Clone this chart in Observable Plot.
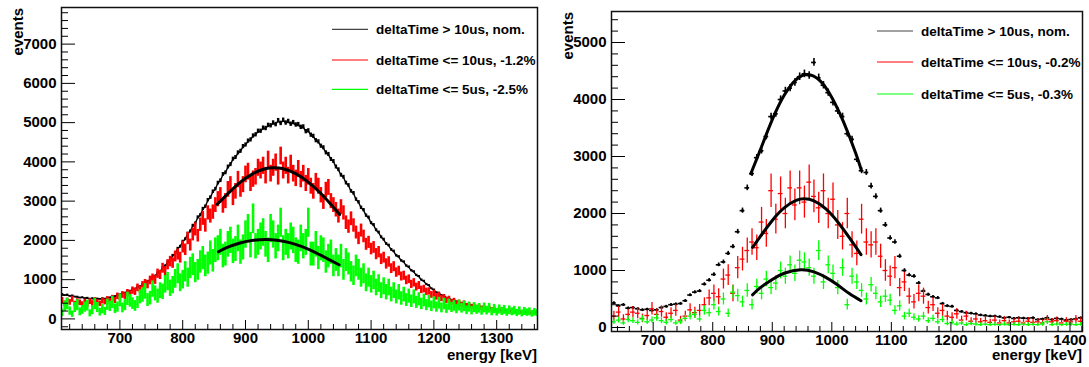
<!DOCTYPE html>
<html><head><meta charset="utf-8">
<script src="https://cdn.jsdelivr.net/npm/d3@7"></script>
<script src="https://cdn.jsdelivr.net/npm/@observablehq/plot@0.6"></script>
<style>
body{margin:0;background:#fff;}
#wrap{position:relative;width:1089px;height:367px;overflow:hidden;}
#left{position:absolute;left:0;top:0;width:545px;}
#right{position:absolute;left:545px;top:0;width:544px;}
</style></head><body><div id="wrap"><div id="left"></div><div id="right"></div></div>
<script>
// ---------------- DATA ----------------
const seriesLabelsLeft = ["deltaTime > 10us, nom.", "deltaTime <= 10us, -1.2%", "deltaTime <= 5us, -2.5%"];
const seriesLabelsRight = ["deltaTime > 10us, nom.", "deltaTime <= 10us, -0.2%", "deltaTime <= 5us, -0.3%"];
const xLabel = "energy [keV]";
const yLabel = "events";

// left panel: 4 keV bins starting at 606 keV
const leftBinStart = 606, leftBinWidth = 4;
const leftNominal = [
625,598,612,580,590,561,558,537,546,522,
531,508,520,497,512,503,519,508,536,541,
566,574,610,618,652,660,701,708,748,762,
812,822,878,890,958,985,1062,1088,1168,1205,
1302,1345,1446,1480,1612,1655,1790,1840,1968,2030,
2170,2228,2372,2430,2585,2640,2800,2860,3025,3090,
3240,3305,3460,3520,3680,3720,3870,3930,4070,4110,
4230,4270,4390,4430,4530,4560,4660,4690,4780,4780,
4860,4850,4930,4920,4990,4950,5050,4980,5060,4990,
5030,4960,5000,4940,4950,4880,4890,4770,4790,4680,
4650,4540,4510,4400,4360,4230,4190,4060,4010,3870,
3800,3660,3610,3460,3400,3250,3200,3040,2970,2830,
2770,2630,2580,2440,2390,2260,2200,2080,2020,1910,
1870,1760,1720,1610,1580,1480,1450,1350,1320,1230,
1200,1110,1080,990,960,880,850,770,740,670,
660,600,590,535,530,482,478,440,430,398,
395,365,362,338,335,315,312,295,293,276,
275,258,256,238,236,222,220,205,206,192,
192,180,181,168,170,160,158,150,149,140];
const leftLe10 = [
470,390,455,420,500,380,440,410,370,430,
360,440,395,470,420,385,455,430,490,445,
520,470,575,540,610,580,660,630,720,690,
790,740,850,900,870,980,1030,990,1150,1120,
1290,1210,1380,1460,1420,1590,1640,1560,1830,1760,
2050,1880,2150,2280,2120,2400,2560,2380,2700,2620,
2720,2900,3050,3150,2880,3000,3300,3420,3080,3250,
3550,3300,3420,3680,3750,3450,3560,3620,3850,3780,
3900,3650,4050,3700,3850,3980,3620,4150,3780,3900,
3650,3950,3700,3580,3820,3550,3700,3450,3620,3380,
3250,3500,3380,3150,2980,3280,3350,3000,2900,2780,
2620,2850,2700,2450,2350,2550,2380,2200,2050,2250,
2100,1900,1950,1780,1820,1650,1700,1520,1560,1400,
1450,1280,1330,1180,1220,1080,1100,980,1010,880,
920,810,850,740,760,690,700,610,640,560,
590,520,540,470,500,420,450,390,410,360,
390,330,350,310,320,290,305,270,285,255,
270,235,250,215,235,200,220,190,205,180,
195,170,180,155,170,145,160,135,150,130];
const leftLe5 = [
150,320,380,200,120,290,350,180,230,300,
340,140,220,380,290,170,250,190,360,320,
420,260,300,470,280,350,510,460,390,330,
420,560,610,700,480,530,760,650,580,720,
690,880,950,780,860,1020,1150,920,1000,1200,
1050,1300,1380,1180,1250,1450,1550,1350,1420,1680,
1480,1750,1800,1950,1600,1650,1900,2000,1720,1780,
2050,1700,1820,2150,2300,1880,2550,1850,1950,2100,
2200,1900,1750,2300,2150,1850,2050,2450,1800,1950,
1850,2100,2000,1750,1700,2050,1850,1950,2450,1650,
1650,1900,1550,1800,1750,1450,1600,1700,1350,1500,
1350,1600,1250,1500,1400,1200,1100,1350,1250,1050,
1150,920,1050,880,980,800,900,720,830,680,
800,620,720,560,680,520,620,480,580,450,
560,420,500,380,470,350,440,320,410,300,
400,280,380,260,360,290,330,250,340,270,
320,220,300,210,290,230,270,200,280,210,
270,180,250,170,240,190,230,160,220,180,
210,150,200,140,190,160,180,130,170,150];
// fitted curves (keV, events)
const leftFitLe10X = [855,870,890,910,930,946,960,980,1000,1020,1040,1050];
const leftFitLe10Y = [2920,3160,3460,3683,3817,3850,3824,3701,3485,3193,2847,2660];
const leftFitLe5X = [857,870,890,910,932,950,970,990,1010,1030,1049];
const leftFitLe5Y = [1712,1815,1926,1997,2025,2006,1943,1839,1701,1537,1380];

// right panel: 8 keV bins starting at 630 keV
const rightBinStart = 630, rightBinWidth = 8;
const rightNominal = [
430,380,400,340,350,330,310,320,300,310,
350,370,400,410,420,470,570,620,640,760,
830,930,1100,1150,1300,1420,1680,2050,2450,2700,
2980,3100,3350,3700,3750,4000,4150,4200,4300,4400,
4450,4420,4650,4380,4250,4120,3950,3800,3700,3400,
3300,2950,2750,2720,2480,2300,2050,1800,1570,1500,
1250,1000,920,900,780,640,580,540,520,420,
380,370,300,280,260,250,240,220,210,200,
200,190,170,180,160,170,165,160,170,140,
150,170,140,160,150,130,140,150,170];
const rightLe10 = [
200,270,150,230,270,250,160,210,330,230,
280,180,250,300,130,200,310,260,300,400,
520,600,540,850,920,600,1050,1200,1350,1500,
1400,1850,1650,2400,1900,2350,2000,2450,2150,2450,
2200,2550,2300,2100,2400,2000,2250,1800,1600,2000,
1450,1300,1900,1500,1450,1500,1250,1000,900,1050,
700,800,550,450,600,550,350,400,250,300,
200,180,240,130,200,110,150,100,120,90,
130,80,120,80,100,110,80,110,90,100,
80,140,100,120,80,110,100,140,110];
const rightLe5 = [
100,130,80,140,120,90,150,100,130,170,
120,90,140,80,100,160,200,230,150,300,
260,400,280,500,250,620,560,450,650,400,
720,600,850,700,780,1000,900,1100,950,1180,
1150,1050,900,1350,800,1100,950,700,1050,400,
900,800,650,500,750,600,450,550,480,300,
380,200,250,180,150,200,120,160,100,140,
70,90,60,80,50,70,60,50,60,50,
55,50,60,50,55,50,60,50,55,50,
60,100,50,60,50,55,60,50,55];
const rightFitNomX = [864,880,900,920,940,959,980,1000,1020,1040,1049];
const rightFitNomY = [2700,3118,3646,4074,4350,4440,4331,4037,3598,3063,2780];
const rightFitLe10X = [867,880,900,920,940,954,970,990,1010,1030,1049];
const rightFitLe10Y = [1407,1598,1878,2098,2229,2257,2221,2080,1851,1567,1278];
const rightFitLe5X = [867,880,900,920,948,970,990,1010,1030,1049];
const rightFitLe5Y = [574,700,843,952,1014,975,880,745,591,469];

// axis ticks
const leftXMajor = [700,800,900,1000,1100,1200,1300];
const leftYMajor = [0,1000,2000,3000,4000,5000,6000,7000];
const rightXMajor = [700,800,900,1000,1100,1200,1300,1400];
const rightYMajor = [0,1000,2000,3000,4000,5000];

// ---------------- DRAW ----------------
const FONT = "'Liberation Sans', Arial, Helvetica, sans-serif";
const colors = ["#000000", "#ff0000", "#00ff00"];

function rows(start, width, values, k) {
  return values.map((v, i) => {
    const c = start + width * (i + 0.5);
    const e = k * Math.sqrt(Math.max(v, 0));
    return {x: c, x1: c - width / 2, x2: c + width / 2, v, lo: v - e, hi: v + e};
  });
}
function minorTicks(lo, hi, step) { return d3.range(Math.ceil(lo / step) * step, hi + 1e-9, step); }

function panel(cfg) {
  const marks = [];
  cfg.series.forEach((s, i) => {
    if (s.joined) marks.push(Plot.line(s.rows, {x: "x", y: "v", stroke: colors[i], strokeWidth: 1.4, clip: true}));
    marks.push(Plot.ruleX(s.rows, {x: "x", y1: "lo", y2: "hi", stroke: colors[i], strokeWidth: s.w, clip: true}));
    if (cfg.crosses) {
      marks.push(Plot.ruleY(s.rows, {y: "v", x1: "x1", x2: "x2", stroke: colors[i], strokeWidth: s.hw, clip: true}));
      if (i === 0) marks.push(Plot.dot(s.rows, {x: "x", y: "v", r: 1.3, fill: colors[0], stroke: null, clip: true}));
    }
  });
  cfg.fits.forEach(f => {
    const pts = f.x.map((x, j) => ({x, y: f.y[j]}));
    marks.push(Plot.line(pts, {x: "x", y: "y", stroke: "#000", strokeWidth: 3, curve: "natural", clip: true}));
  });
  marks.push(Plot.frame({stroke: "#111", strokeWidth: 1.5}));
  const xd = cfg.xDomain, yd = cfg.yDomain;
  marks.push(Plot.axisX(cfg.xMajor, {anchor: "bottom", tickSize: -9, tickFormat: () => "", label: null}));
  marks.push(Plot.axisX(minorTicks(xd[0], xd[1], 20).filter(t => t % 100 !== 0), {anchor: "bottom", tickSize: -5, tickFormat: () => "", label: null}));
  marks.push(Plot.axisX(cfg.xMajor, {anchor: "bottom", tickSize: 0, tickPadding: 3, label: null, tickFormat: d => String(d)}));
  marks.push(Plot.axisY(cfg.yMajor, {anchor: "left", tickSize: -14, tickFormat: () => "", label: null}));
  marks.push(Plot.axisY(minorTicks(yd[0], yd[1], 200).filter(t => t % 1000 !== 0), {anchor: "left", tickSize: -7, tickFormat: () => "", label: null}));
  marks.push(Plot.axisY(cfg.yMajor, {anchor: "left", tickSize: 0, tickPadding: 5, label: null, tickFormat: d => String(d)}));

  const svg = Plot.plot({
    width: cfg.width, height: 367,
    marginLeft: cfg.ml, marginRight: cfg.mr, marginTop: cfg.mt, marginBottom: cfg.mb,
    x: {domain: xd, label: null},
    y: {domain: yd, label: null},
    style: {fontFamily: FONT, fontSize: "15px", fontWeight: "bold", color: "#000", background: "#fff", overflow: "visible"},
    marks
  });
  const g = d3.select(svg);
  const right = cfg.width - cfg.mr;
  g.append("text").text(xLabel).attr("x", right).attr("y", 360).attr("text-anchor", "end")
    .style("font", `bold 15px ${FONT}`).attr("fill", "#000");
  g.append("text").text(yLabel).attr("transform", `translate(${cfg.ml - 38.5},${cfg.mt + 1}) rotate(-90)`)
    .attr("text-anchor", "end").style("font", `bold 15px ${FONT}`).attr("fill", "#000");
  cfg.labels.forEach((lab, i) => {
    const y = cfg.legendY[i];
    g.append("line").attr("x1", 332).attr("x2", 368).attr("y1", y).attr("y2", y)
      .attr("stroke", i === 0 ? "#444" : colors[i]).attr("stroke-width", 1.2);
    g.append("text").text(lab).attr("x", 376).attr("y", y).attr("dy", "0.35em")
      .attr("text-anchor", "start")
      .style("font", `bold 13.5px ${FONT}`).attr("fill", "#000");
  });
  return svg;
}

document.getElementById("left").appendChild(panel({
  width: 545, ml: 61, mr: 8, mt: 7, mb: 38,
  xDomain: [607, 1365], yDomain: [-270, 7933],
  xMajor: leftXMajor, yMajor: leftYMajor,
  crosses: false,
  series: [
    {rows: rows(leftBinStart, leftBinWidth, leftNominal, 0.8), w: 2.4, joined: true},
    {rows: rows(leftBinStart, leftBinWidth, leftLe10, 3.5), w: 2.6},
    {rows: rows(leftBinStart, leftBinWidth, leftLe5, 7.5), w: 2.6}
  ],
  fits: [{x: leftFitLe10X, y: leftFitLe10Y}, {x: leftFitLe5X, y: leftFitLe5Y}],
  labels: seriesLabelsLeft, legendY: [29.3, 60, 89.3]
}));
document.getElementById("right").appendChild(panel({
  width: 544, ml: 66, mr: 7, mt: 11, mb: 36,
  xDomain: [630, 1421], yDomain: [-70, 5544],
  xMajor: rightXMajor, yMajor: rightYMajor,
  crosses: true,
  series: [
    {rows: rows(rightBinStart, rightBinWidth, rightNominal, 1.0), w: 1.6, hw: 1.6},
    {rows: rows(rightBinStart, rightBinWidth, rightLe10, 6.0), w: 1.3, hw: 1.3},
    {rows: rows(rightBinStart, rightBinWidth, rightLe5, 4.7), w: 1.3, hw: 1.3}
  ],
  fits: [{x: rightFitNomX, y: rightFitNomY}, {x: rightFitLe10X, y: rightFitLe10Y}, {x: rightFitLe5X, y: rightFitLe5Y}],
  labels: seriesLabelsRight, legendY: [31, 62, 94]
}));
</script></body></html>
